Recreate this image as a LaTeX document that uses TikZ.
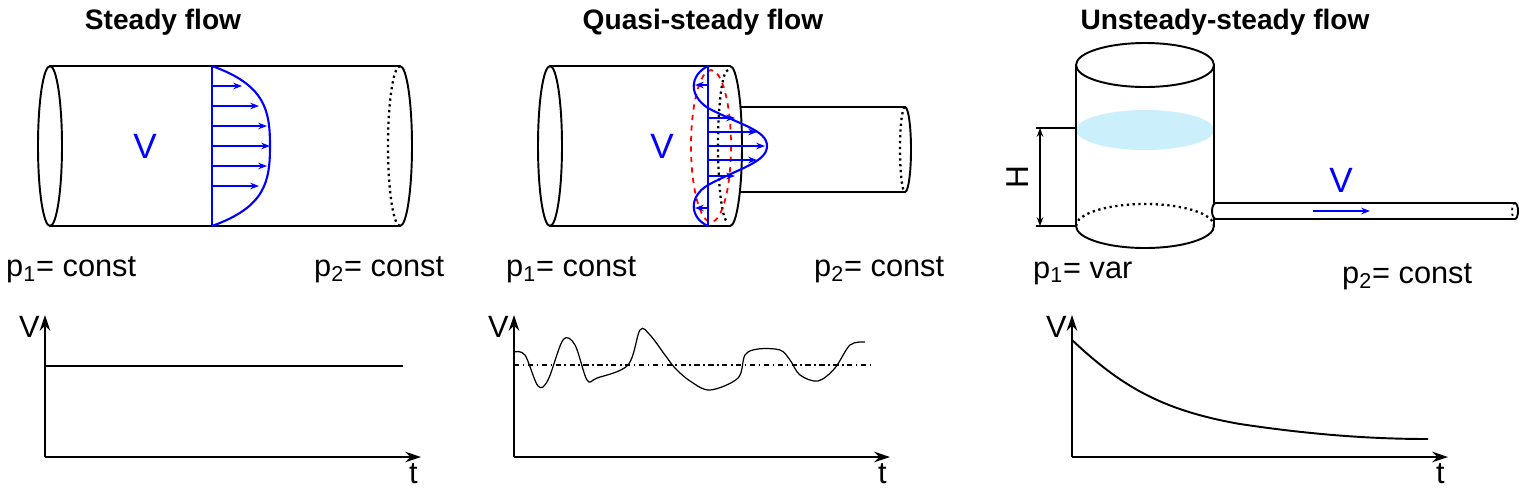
\documentclass[tikz,border=0pt]{standalone}
\usepackage{fontspec}
\setmainfont{Liberation Sans}
\usetikzlibrary{positioning,calc,arrows.meta}
\tikzset{
  ttl/.style={font=\fontsize{16}{18}\selectfont\bfseries},
  lbl/.style={font=\fontsize{17.5}{20}\selectfont, anchor=west},
  vel/.style={font=\fontsize{20}{22}\selectfont, text=blue},
  wall/.style={line width=1.1pt},
  hid/.style={line width=1.3pt, dotted},
  prof/.style={blue, line width=1.2pt},
  parr/.style={blue, -{Stealth[length=5pt]}, line width=0.6pt},
  ax/.style={line width=1pt, -{Stealth[length=9pt,width=6pt]}}
}
\begin{document}
\begin{tikzpicture}[x=0.02cm, y=-0.02cm]
\useasboundingbox (0,0) rectangle (1524,495);
% titles
\node[ttl] (t1) at (163,22) {Steady flow};
\node[ttl] (t2) at (703,22) {Quasi-steady flow};
\node[ttl] (t3) at (1225,22) {Unsteady-steady flow};

% steady pipe
\draw[wall] (50,146) ellipse (12 and 80);
\draw[wall] (50,66) -- (400,66) arc (-90:90:12 and 80) -- (50,226);
\draw[hid] (400,66) arc (270:90:12 and 80);
\draw[prof] (212,66) -- (212,226);
\draw[prof] (212,66) .. controls (265,85) and (270,110) .. (270,146) .. controls (270,182) and (265,207) .. (212,226);
\foreach \y/\x in {86/242,106/259,126/267,146/270,166/267,186/259}
  \draw[parr] (212,\y) -- (\x,\y);
\node[vel] (v1) at (145,146) {V};
\node[lbl] (pa1) at (0,270) {p\textsubscript{1}= const};
\node[lbl] (pb1) at (308,270) {p\textsubscript{2}= const};
% steady graph
\coordinate (o1) at (45,457);
\draw[ax] (o1) -- (45,315);
\draw[ax] (o1) -- (421,457);
\draw[line width=1.1pt] (45,366) -- (403,366);
\node[lbl] (gv1) at (13,327) {V};
\node[lbl] (gt1) at (403,474) {t};

% quasi-steady pipe
\draw[wall] (550,146) ellipse (12 and 80);
\draw[wall] (550,66) -- (730,66) arc (-90:90:12 and 80) -- (550,226);
\draw[hid] (728,70) arc (270:90:10 and 76);
\draw[wall] (740,107) -- (905,107) arc (-90:90:6 and 42.5) -- (740,192);
\draw[hid] (905,107) arc (270:90:5 and 42.5);
\draw[red, dashed, line width=1pt] (711,146) ellipse (20 and 76);
\draw[prof] (708,66) -- (708,226);
\draw[prof] (708,66) .. controls (690,75) and (688,95) .. (708,108)
  .. controls (740,125) and (767,130) .. (767,146)
  .. controls (767,162) and (740,168) .. (708,185)
  .. controls (688,197) and (690,218) .. (708,226);
\foreach \y/\x in {118/735,132/757,146/765,160/757,176/735}
  \draw[parr] (708,\y) -- (\x,\y);
\draw[parr] (708,85) -- (695,85);
\draw[parr] (708,208) -- (695,208);
\node[vel] (v2) at (662,146) {V};
\node[lbl] (pa2) at (500,270) {p\textsubscript{1}= const};
\node[lbl] (pb2) at (808,270) {p\textsubscript{2}= const};
% quasi-steady graph
\coordinate (o2) at (514,457);
\draw[ax] (o2) -- (514,315);
\draw[ax] (o2) -- (890,457);
\draw[line width=0.9pt, dash dot] (514,365) -- (873,365);
\draw[line width=0.7pt] plot[smooth, tension=0.55] coordinates {(514,352) (525,355) (538,386)
  (548,380) (563,340) (575,345) (587,380) (597,378) (628,365) (640,330) (650,335) (665,355)
  (675,368) (690,381) (710,390) (738,378) (745,355) (758,349) (780,350) (790,360) (800,375)
  (818,381) (835,368) (850,345) (865,342)};
\node[lbl] (gv2) at (482,327) {V};
\node[lbl] (gt2) at (872,474) {t};

% tank
\fill[cyan!20] (1145,130) ellipse (69 and 20);
\draw[wall] (1145,65) ellipse (69 and 22);
\draw[wall] (1076,65) -- (1076,226) arc (180:0:69 and 22) -- (1214,65);
\draw[hid] (1076,226) arc (180:360:69 and 22);
\draw[line width=0.6pt] (1076,128) -- (1036,128);
\draw[line width=0.6pt] (1076,226) -- (1036,226);
\draw[{Stealth[length=5pt]}-{Stealth[length=5pt]}, line width=0.6pt] (1040,128) -- (1040,226);
\node[font=\fontsize{18}{20}\selectfont, rotate=90] (hh) at (1018,177) {H};
\draw[wall, fill=white] (1216,203) -- (1515,203) arc (-90:90:3 and 8) -- (1216,219) arc (90:270:4 and 8) -- cycle;
\draw[hid, line width=1pt] (1515,203) arc (270:90:3 and 8);
\draw[parr] (1313,211) -- (1370,211);
\node[vel] (v3) at (1341,180) {V};
\node[lbl] (pa3) at (1027,273) {p\textsubscript{1}= var};
\node[lbl] (pb3) at (1336,277) {p\textsubscript{2}= const};
% unsteady graph
\coordinate (o3) at (1072,457);
\draw[ax] (o3) -- (1072,315);
\draw[ax] (o3) -- (1448,457);
\draw[line width=1.1pt] (1072,340) .. controls (1120,385) and (1160,410) .. (1240,424)
  .. controls (1320,436) and (1380,439) .. (1428,439);
\node[lbl] (gv3) at (1040,327) {V};
\node[lbl] (gt3) at (1430,474) {t};
\end{tikzpicture}
\end{document}
